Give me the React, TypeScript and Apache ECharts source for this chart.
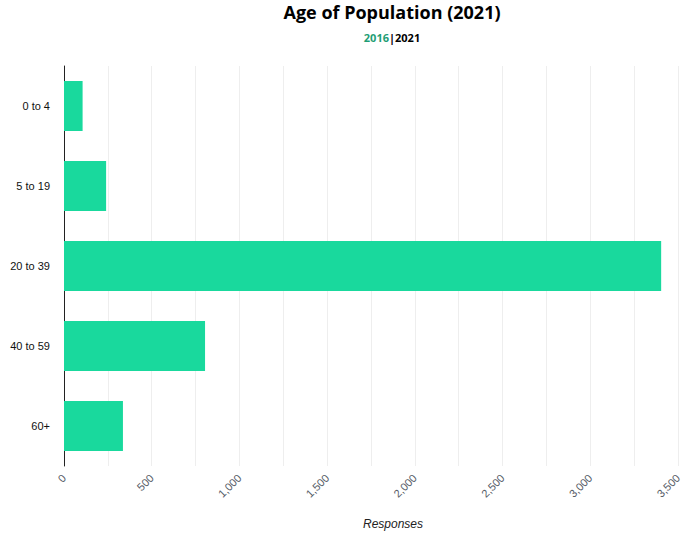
import React, { useEffect, useRef } from "react";
import * as echarts from "echarts";

const categories = ["0 to 4", "5 to 19", "20 to 39", "40 to 59", "60+"];
const values = [106, 240, 3404, 804, 336];

export default function App() {
  const ref = useRef<HTMLDivElement>(null);
  useEffect(() => {
    document.body.style.margin = "0";
    const chart = echarts.init(ref.current!, null, { renderer: "svg" });
    chart.setOption({
      animation: false,
      title: {
        left: 387,
        top: -2,
        textAlign: "center",
        text: "Age of Population (2021)",
        textStyle: { fontFamily: "Open Sans", fontWeight: "bold", fontSize: 18, color: "#000" },
        subtext: "{a|2016}{b||}{c|2021}",
        itemGap: 11,
        subtextStyle: {
          rich: {
            a: { fontFamily: "Open Sans", fontWeight: "bold", fontSize: 11, color: "#1f9e75" },
            b: { fontFamily: "Open Sans", fontWeight: "bold", fontSize: 11, color: "#000" },
            c: { fontFamily: "Open Sans", fontWeight: "bold", fontSize: 11, color: "#000" },
          },
        },
      },
      graphic: [
        {
          type: "text",
          x: 393,
          y: 518,
          style: {
            text: "Responses",
            fontFamily: "Liberation Sans",
            fontStyle: "italic",
            fontSize: 12,
            fill: "#222",
            textAlign: "center",
          },
        },
      ],
      grid: { left: 64, right: 19, top: 66, bottom: 67, containLabel: false },
      xAxis: {
        type: "value",
        min: 0,
        max: 3500,
        interval: 250,
        axisLine: { show: false },
        axisTick: { show: false },
        axisLabel: {
          rotate: 45,
          margin: 10,
          fontFamily: "Liberation Sans",
          fontSize: 11,
          color: "#555b66",
          formatter: (v: number) => (v % 500 === 0 ? v.toLocaleString("en-US") : ""),
        },
        splitLine: { show: true, lineStyle: { color: "#eeeeee", width: 1 } },
      },
      yAxis: {
        type: "category",
        data: categories,
        inverse: true,
        axisLine: { show: true, lineStyle: { color: "#222", width: 1 } },
        axisTick: { show: false },
        axisLabel: { fontFamily: "Liberation Sans", fontSize: 11, color: "#111", margin: 14 },
        splitLine: { show: false },
      },
      series: [
        {
          type: "bar",
          data: values,
          barWidth: 50,
          itemStyle: { color: "#19d99d" },
        },
      ],
    });
    return () => chart.dispose();
  }, []);
  return <div ref={ref} style={{ width: 697, height: 533 }} />;
}
